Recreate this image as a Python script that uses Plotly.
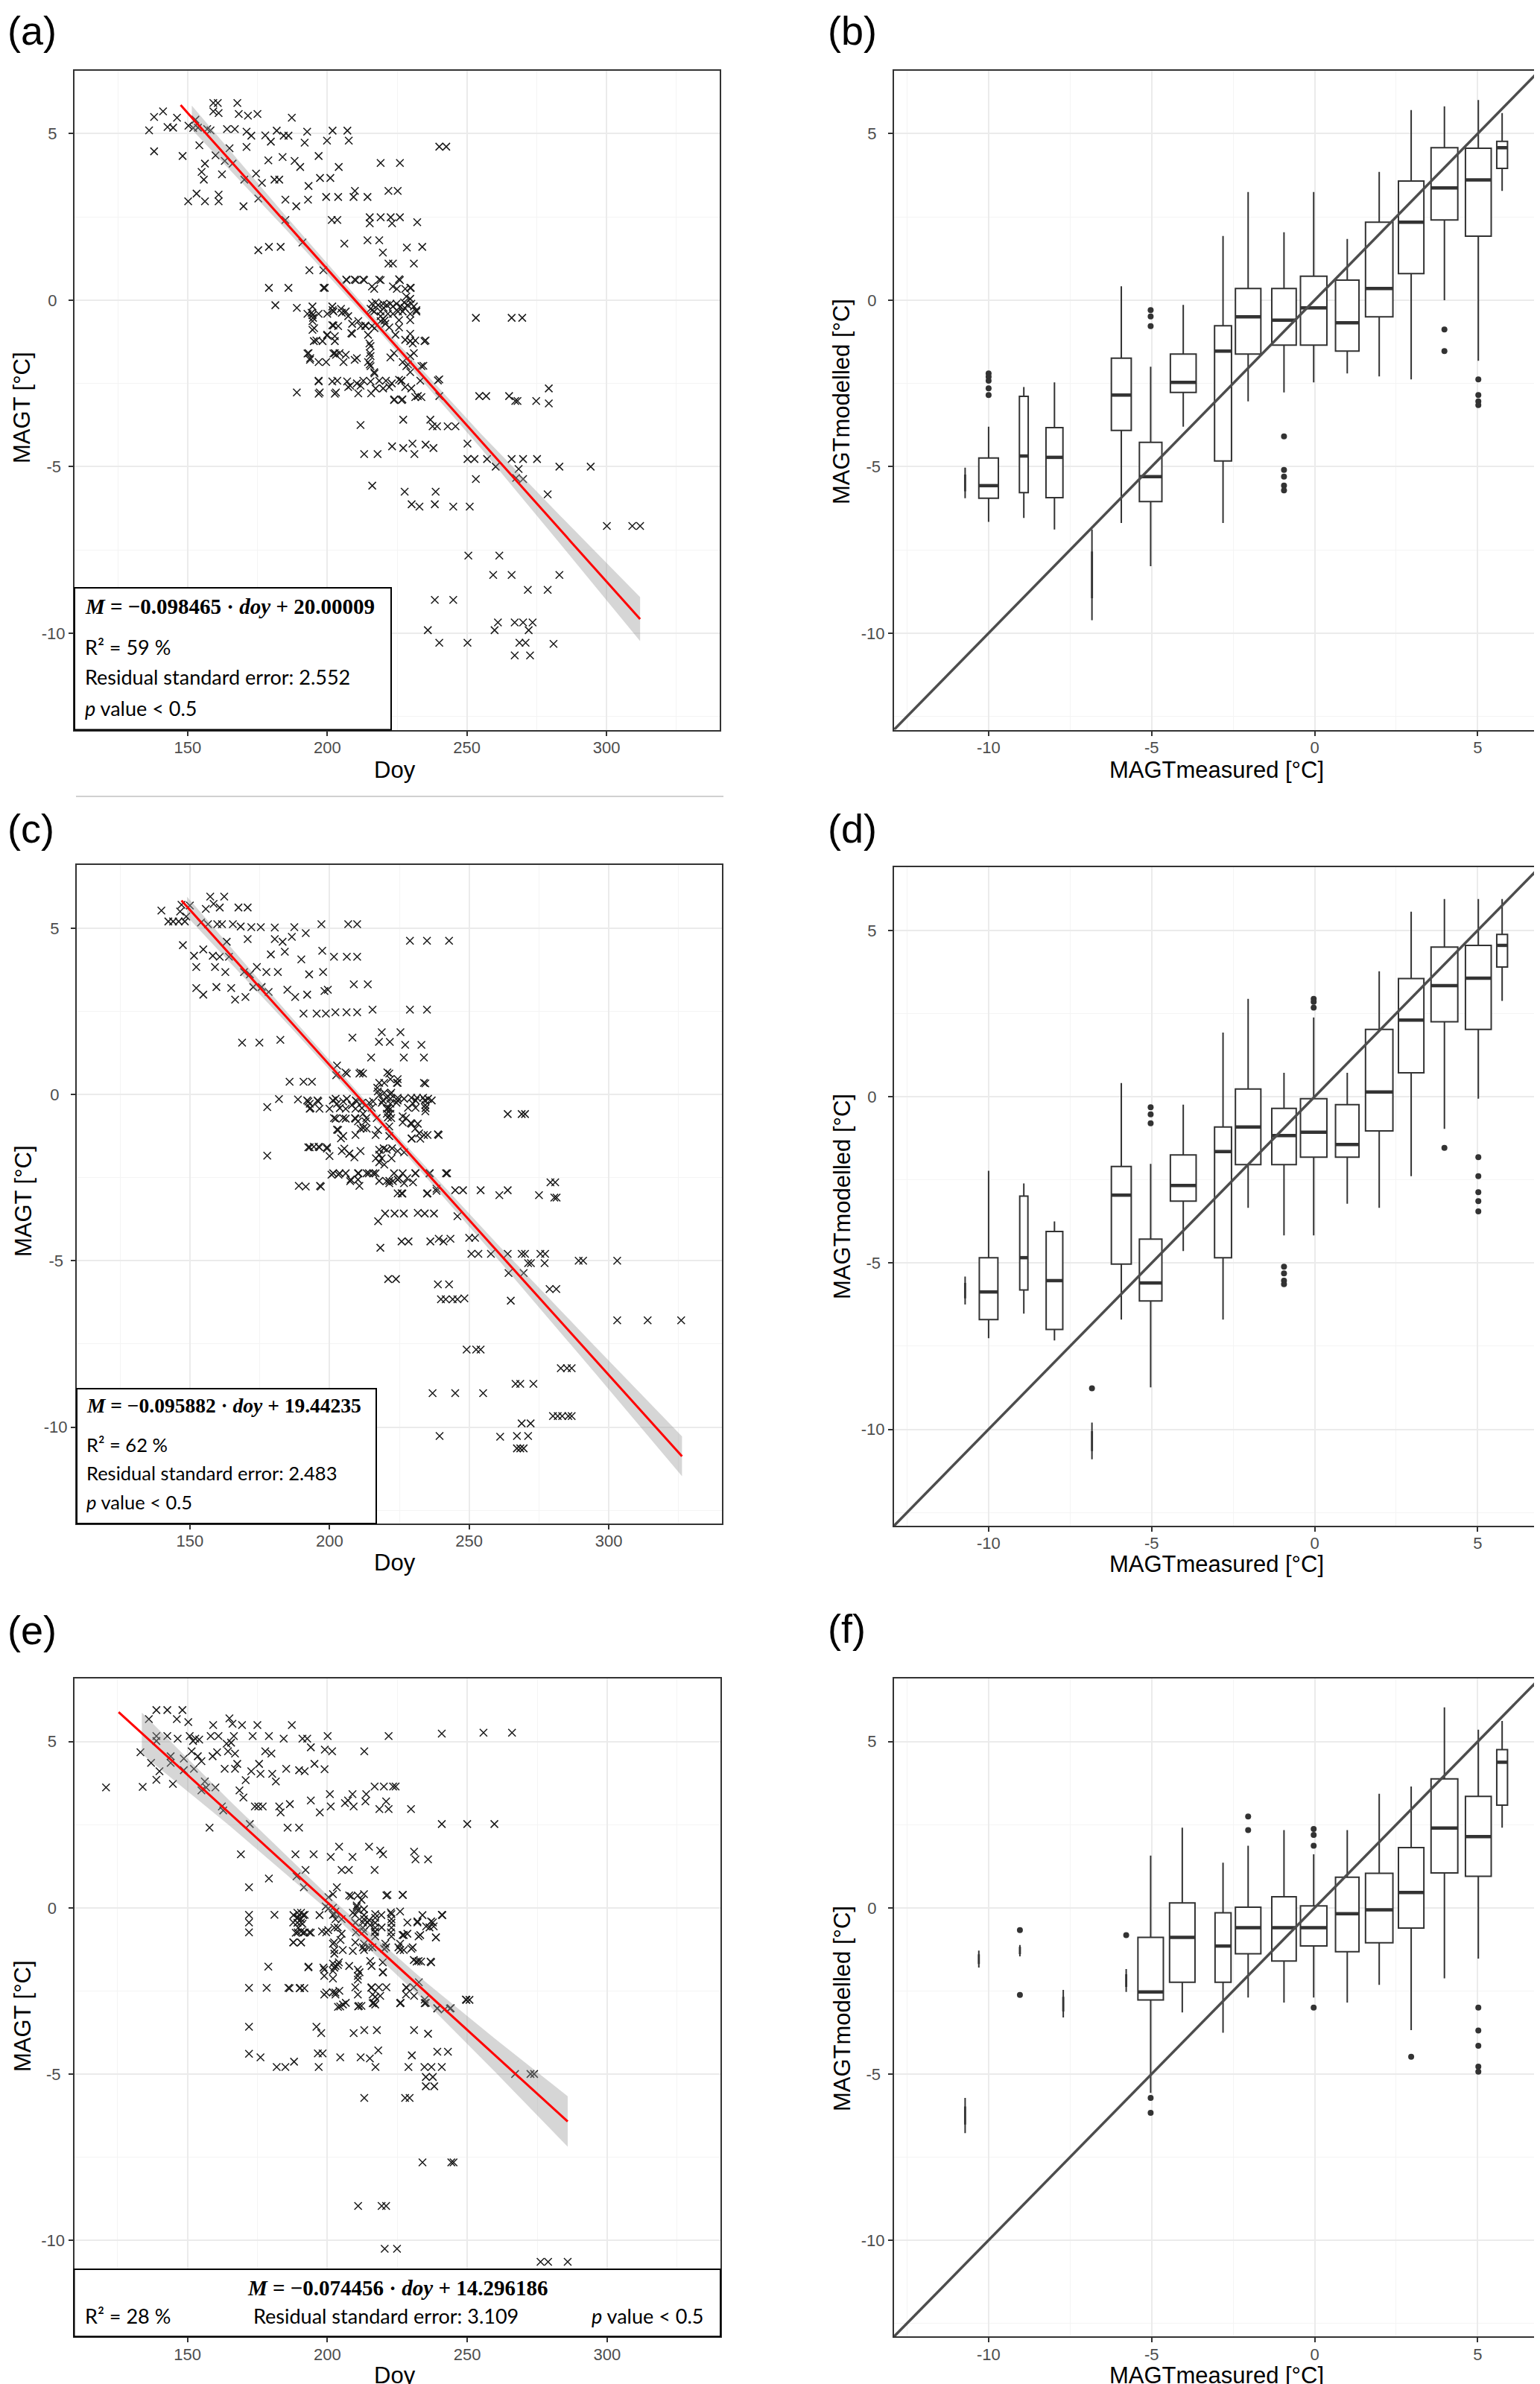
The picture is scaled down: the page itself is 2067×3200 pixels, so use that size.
import numpy as np
import plotly.graph_objects as go

# ---- data ----
# scatter panels: (doy, MAGT)
pts_a = [(136.2, 5.1), (138, 5.5), (138, 4.47), (141.2, 5.67), (142.8, 5.2), (144.8, 5.18), (146.2, 5.48), (148.2, 4.33),
         (150.2, 2.97), (150.3, 5.24), (152, 5.17), (152.8, 5.42), (153.7, 5.18), (154.2, 4.65), (153.2, 3.2), (155, 3.85),
         (155.8, 3.62), (156.2, 2.97), (156.2, 4.1), (157, 5.14), (158.2, 5.1), (159.2, 5.92), (159.2, 5.67), (160.8, 5.92),
         (161.1, 5.62), (160, 4.35), (161.1, 3.17), (161.1, 2.97), (162.3, 3.78), (163.3, 4.18), (164.1, 5.14), (165, 4.56),
         (166.1, 4.1), (166.9, 5.14), (167.8, 5.92), (168.3, 5.59), (170, 2.82), (170.3, 3.62), (171.1, 5.06), (171.1, 4.6),
         (171.6, 5.54), (172.8, 4.94), (175, 5.59), (174.5, 3.8), (175.3, 3.05), (175.3, 1.5), (176.6, 3.52), (177.8, 4.95),
         (178.9, 4.2), (179.1, 1.6), (179.1, 0.37), (179.8, 4.76), (181.1, 3.62), (181.4, -0.15), (181.9, 5.09), (182.8, 3.62),
         (183.3, 1.6), (184, 4.3), (184.4, 4.94), (185, 3.02), (185, 2.41), (186.1, 4.94), (186.1, 0.37), (187.3, 5.48),
         (188.3, 4.18), (188.9, 2.82), (189.1, -0.23), (189.1, -2.77), (190.3, 4.0), (191.1, 1.73), (191.9, 4.73), (192.8, 5.06),
         (193.1, 3.02), (193.3, 3.43), (193.6, 0.9), (194.4, -0.38), (194.9, -0.53), (193.3, -1.59), (193.9, -1.74), (195.3, -0.84),
         (196.1, -1.21), (196.9, 4.33), (196.9, -2.42), (197.3, -2.77), (197.4, 3.67), (198.6, 0.9), (199.1, 0.37), (199.6, 3.1),
         (199.9, 4.79), (199.9, -1.06), (201.1, 3.67), (201.6, 2.41), (201.9, 5.09), (201.9, -0.3), (202.2, -0.76), (202.7, -1.59),
         (203.1, -2.77), (203.6, 2.41), (203.9, 3.1), (204.1, 4.0), (203.6, -2.42), (204.4, -1.59), (205.2, -0.38), (206.1, 1.7),
         (206.9, 0.6), (207.2, 5.09), (207.7, 4.79), (208.6, -0.99), (208.2, -2.57), (209.4, 3.1), (209.9, 3.28), (210.2, 0.6),
         (210.6, -1.74), (211.9, -2.57), (211.9, -3.75), (213.2, 0.6), (213.2, -4.62), (213.6, -0.76), (214.4, 3.1), (214.4, 1.8),
         (215.2, 2.49), (215.2, 2.31), (215.2, -1.59), (215.2, -1.93), (215.7, -2.8), (216.1, -0.3), (216.1, -5.57), (216.9, -0.84),
         (216.9, -2.2), (218, -4.62), (218.6, 1.8), (219.1, 4.12), (219.1, 2.49), (219.1, 0.6), (219.9, 1.43), (220.2, -0.23),
         (220.5, -0.61), (221, -2.42), (221.9, 3.28), (221.9, 1.1), (222.7, 2.49), (223.2, 2.31), (223.2, -4.39), (223.5, 1.1),
         (223.9, -1.59), (224, -2.98), (225.2, 3.28), (226, 2.49), (226, 0.6), (226, 4.12), (226.5, -2.42), (226.9, -2.98),
         (227.2, -3.59), (227.2, -4.44), (227.7, -5.75), (227.7, -0.23), (228.5, 1.58), (228.9, -1.93), (229.9, 0.37), (230.2, -6.13),
         (230.5, -4.31), (231, -1.59), (231, 1.1), (231.2, -4.62), (231.5, -1.21), (231.9, -0.3), (232.2, 2.34), (232.4, -2.88),
         (233, -6.2), (234, 1.6), (234.4, -1.97), (235.2, -1.21), (235.2, -4.34), (236, -9.91), (236.9, -3.59), (237.7, -3.79),
         (238, -4.44), (238.5, -6.13), (238.5, -9.0), (238.8, -5.75), (239.3, -3.79), (240.1, -2.38), (240.1, -2.88), (240.1, -10.29),
         (240.1, 4.61), (242.6, 4.61), (243.1, -3.79), (245.1, -6.2), (245.1, -9.0), (245.9, -3.79), (250.2, -4.31), (250.2, -4.77),
         (250.5, -7.67), (251, -6.2), (250.2, -10.29), (252.7, -4.77), (253.2, -0.53), (253.2, -5.37), (254.4, -2.88), (256.9, -2.88),
         (257.2, -4.77), (259.4, -8.25), (259.9, -9.91), (260.3, -5.0), (261.1, -9.68), (261.6, -7.67), (265.1, -2.88), (266, -0.53),
         (266, -4.77), (266, -8.25), (267.1, -9.68), (267.1, -10.67), (267.3, -3.03), (267.6, -5.34), (268.1, -3.03), (268.5, -5.07),
         (268.8, -10.29), (269.8, -0.53), (270.1, -4.77), (270.1, -5.37), (270.1, -9.68), (271, -10.29), (271.8, -8.7), (272.1, -9.91),
         (272.6, -10.67), (273.5, -9.68), (274.8, -3.03), (275.1, -4.77), (278.9, -5.83), (278.9, -8.7), (279.3, -2.65), (279.3, -3.1),
         (281, -10.32), (283.1, -5.0), (283.1, -8.25), (294.3, -5.0), (300.1, -6.78), (309.2, -6.78), (312, -6.78)]

# dense middle cluster of (a)
pts_a_dense = [(198.7, 0.37), (206.8, 0.62), (209.8, 0.62), (212.9, 0.62), (218.6, 0.62), (225.7, 0.63), (216, 0.41), (216.8, 0.34),
               (223.5, 0.41), (224.9, 0.34), (227.9, 0.34), (229.7, 0.37), (228.3, 0.11), (229.7, 0.04), (216, -0.11), (217.3, -0.07),
               (218.2, -0.15), (220, -0.11), (221.3, -0.15), (222.6, -0.11), (223.5, -0.19), (224.8, -0.11), (226.2, -0.19), (227.5, -0.07),
               (228.8, -0.15), (230.1, -0.11), (231, -0.19), (215.5, -0.26), (216.8, -0.34), (219.1, -0.34), (219.1, -0.48), (220, -0.56),
               (219.1, -0.63), (220.8, -0.71), (221.7, -0.41), (223.5, -0.41), (225.3, -0.34), (227, -0.34), (229.7, -0.41), (231.9, -0.34),
               (225.7, -0.6), (225.7, -0.82), (229.7, -0.6), (229.7, -1.01), (229.7, -1.23), (230.6, -1.3), (227.9, -1.19), (234.8, -1.23),
               (222.2, -0.82), (224.4, -1.04), (194.7, -0.19), (194.7, -0.45), (194.7, -0.63), (194.7, -0.89), (196.9, -0.41), (192.9, -0.41),
               (201.8, -0.19), (202.2, -0.34), (201.8, -0.75), (203.9, -0.78), (204.9, -0.26), (206.6, -0.34), (207.5, -0.48), (200, -0.41),
               (208.9, -0.71), (211.1, -0.63), (212, -0.78), (213.7, -0.78), (216, -0.78), (208.9, -1.01), (200, -1.04), (202.7, -1.08),
               (195.2, -1.23), (198.3, -1.23), (202.7, -1.23), (214.6, -1.04), (215.1, -1.3), (215.5, -1.38), (192.9, -1.6), (193.8, -1.79),
               (196.9, -1.86), (199.6, -1.86), (202.2, -1.6), (203.1, -1.64), (206.6, -1.64), (205.8, -1.86), (209.8, -1.79), (215.5, -1.68),
               (214.6, -1.86), (215.5, -1.98), (216.8, -2.16), (222.6, -1.72), (227, -1.86), (228.3, -1.98), (229.7, -1.68), (229.7, -2.16),
               (233.7, -1.98), (196.9, -2.44), (196.9, -2.81), (201.8, -2.44), (202.7, -2.81), (207.1, -2.44), (207.5, -2.61), (210.6, -2.5),
               (211.1, -2.8), (212.9, -2.42), (215.5, -2.44), (217.3, -2.65), (218.6, -2.42), (220, -2.65), (222.2, -2.61), (223.1, -2.5),
               (225.7, -2.39), (226.6, -2.42), (227.9, -2.61), (230.1, -2.65), (233.3, -2.42), (239.6, -2.41), (223.9, -3.0), (226.6, -3.0),
               (231.5, -2.91), (233.7, -2.91)]

pts_c = [(139.8, 5.53), (142.3, 5.2), (144, 5.2), (146, 5.2), (146.5, 5.5), (147, 5.7), (147.5, 4.49), (148.2, 5.2),
         (148.7, 5.35), (150, 5.68), (151.5, 4.17), (152.3, 3.83), (152.3, 3.2), (154, 5.17), (154.8, 4.36), (154.8, 3.0),
         (155.7, 5.58), (156.5, 5.12), (157.3, 5.95), (158.2, 4.17), (158.5, 5.73), (159, 3.83), (159.5, 3.23), (159.8, 5.12),
         (160.7, 5.62), (160.7, 4.14), (161.5, 5.12), (162.3, 5.95), (162.7, 3.68), (163.2, 4.59), (164, 4.14), (164.8, 3.2),
         (165.4, 5.12), (166.2, 2.85), (167.4, 5.62), (168.2, 5.05), (168.7, 1.56), (169.4, 3.68), (169.9, 2.93), (170.7, 5.62),
         (170.7, 4.67), (171.5, 3.61), (172, 5.03), (172.7, 3.23), (174, 3.83), (174.9, 1.56), (175.4, 5.03), (175.7, 3.23),
         (177.4, 3.68), (177.7, -0.38), (177.7, -1.84), (178.2, 3.08), (179, 4.21), (180.4, 5.02), (180.4, 4.67), (181.5, 3.68),
         (181.9, -0.14), (182.4, 1.64), (183.2, 4.59), (184, 4.29), (184.9, 3.15), (185.7, 0.38), (186.5, 4.74), (187.4, 5.03),
         (187.7, 2.93), (188.7, -0.15), (189, -2.75), (189.9, 4.06), (190.7, 2.43), (190.7, 0.38), (191.5, 4.85), (192, -0.18),
         (192, 3.0), (192.4, -1.59), (192.7, 3.61), (193.2, -0.41), (193.7, 0.38), (194.4, -1.57), (195.4, 2.43), (195.7, -0.18),
         (196.1, -1.57), (196.6, -2.75), (197.1, 5.12), (197.4, 4.32), (197.7, 3.68), (198.2, 3.11), (198.7, 2.43), (199.1, -1.59),
         (199.4, 3.15), (200.7, -2.41), (201.2, -0.18), (201.6, -0.71), (201.6, 4.14), (202.1, 2.47), (202.4, 0.58), (202.7, -1.06),
         (203.2, -2.41), (203.7, -0.41), (204.1, -1.32), (204.4, -1.7), (204.9, -0.71), (205.7, 0.66), (206.1, 2.47), (206.2, 4.14),
         (206.7, 5.12), (207.1, -1.78), (207.4, -2.61), (208.2, 1.71), (208.7, 3.31), (209.1, -0.71), (209.4, -0.18), (209.9, 5.12),
         (209.9, 4.14), (209.9, 2.47), (210.4, -2.37), (210.7, -2.75), (211.1, 0.66), (211.6, -0.41), (212.1, -1.01), (213.2, -0.71),
         (213.7, 3.31), (214.1, -2.37), (214.9, 1.11), (215.4, 2.55), (215.7, -2.37), (216.6, -1.92), (216.9, -0.71), (217.1, 0.2),
         (217.4, -3.81), (217.7, 1.58), (218.2, -4.61), (218.7, 1.87), (219.1, -0.18), (219.4, -1.62), (219.9, -3.58), (220.4, -2.61),
         (220.7, 0.66), (221, -0.41), (221, -5.55), (221.6, 1.58), (222.1, 0.05), (222.1, -0.71), (222.4, -1.62), (222.7, -2.61),
         (223.3, -3.58), (223.8, -5.55), (224.1, 0.35), (224.4, -0.18), (224.9, -2.52), (225.4, 1.87), (225.8, -4.42), (226.1, -2.98),
         (226.6, 1.11), (226.6, -3.58), (227.1, 1.49), (227.4, -0.71), (227.8, -2.52), (228.3, -4.42), (228.8, 4.62), (228.8, 2.55),
         (229.1, -0.86), (229.4, -1.32), (229.9, -2.64), (230.8, -0.18), (230.8, -2.37), (231.6, -3.56), (232.1, -1.17), (232.9, 1.49),
         (233.8, 1.11), (233.8, 0.35), (234.1, -3.58), (234.1, -0.18), (234.4, -0.41), (234.9, 4.62), (234.9, 2.55), (234.9, -2.98),
         (235.8, -2.37), (236.1, -4.42), (236.6, -0.18), (236.9, -8.98), (237.4, -3.58), (238.3, -2.83), (238.8, -1.2), (238.8, -5.71),
         (239.1, -4.34), (239.4, -10.27), (239.9, -6.16), (240.8, -4.42), (241.6, -6.16), (242.1, -2.37), (242.8, 4.62), (242.8, -5.71),
         (243.3, -4.34), (244.1, -6.16), (245, -8.98), (245, -2.88), (245.8, -3.66), (245.8, -6.16), (247.8, -2.88), (248.3, -6.13),
         (249.1, -7.67), (250, -4.31), (250.8, -4.79), (252.1, -4.31), (252.5, -7.67), (253.3, -4.79), (254.1, -2.88), (254.1, -7.67),
         (255, -8.98), (257.8, -4.79), (260.8, -3.03), (261.1, -10.29), (263.8, -2.88), (263.8, -0.59), (263.8, -4.79), (264.1, -5.37),
         (264.9, -6.2), (266.6, -8.7), (267.1, -10.27), (267.1, -10.64), (268.3, -8.7), (268.3, -10.64), (268.8, -9.89), (268.8, -0.59),
         (268.8, -4.79), (269.5, -5.37), (269.5, -10.64), (270, -0.59), (270, -4.79), (271.1, -5.07), (271.1, -10.27), (272, -9.89),
         (272.1, -5.07), (273, -8.7), (275, -3.03), (275.5, -4.79), (277, -5.07), (277.2, -4.79), (278.8, -5.85), (279.1, -2.64),
         (280, -9.67), (280.5, -3.1), (280.8, -2.64), (281.2, -5.85), (281.3, -3.1), (281.7, -9.67), (282.8, -8.23), (283.3, -9.67),
         (285, -8.23), (285.5, -9.67), (286.7, -8.23), (286.7, -9.67), (289.2, -5.0), (290.8, -5.0), (303, -5.0), (303, -6.79),
         (313.9, -6.79), (325.9, -6.79)]

pts_c_dense = [(202.7, 0.87), (206.2, 0.63), (210.7, 0.63), (212, 0.63), (221.4, 0.63), (221.8, 0.46), (224.4, 0.46), (224.4, 0.35),
               (234.3, 0.33), (217.8, 0.35), (219.6, 0.35), (217.3, 0.09), (217.8, -0.02), (219.6, 0.05), (220.5, -0.1), (221.8, 0.01),
               (221.8, -0.13), (221.8, -0.28), (221.8, -0.43), (221.8, -0.58), (220.5, -0.43), (220.5, -0.58), (220.9, -0.69), (224.4, -0.1),
               (224, -0.25), (226.7, -0.13), (229.3, -0.1), (231.3, -0.1), (233.5, -0.1), (235.3, -0.13), (229.9, -0.28), (228.1, -0.4),
               (230.8, -0.4), (234.3, -0.32), (234.3, -0.51), (226.2, -0.66), (226.2, -0.84), (229.4, -0.88), (231.6, -0.88), (230.7, -1.03),
               (233.8, -1.22), (235.1, -1.22), (239.1, -1.22), (229.4, -1.33), (232.5, -1.33), (192.4, -0.21), (192.9, -0.28), (196, -0.21),
               (196.4, -0.43), (192.9, -0.43), (200, -0.43), (202.2, -0.13), (202.7, -0.28), (204.9, -0.21), (206.2, -0.13), (205.8, -0.43),
               (208, -0.32), (209.8, -0.21), (209.3, -0.43), (211.6, -0.25), (214.2, -0.25), (215.1, -0.4), (215.6, -0.21), (218.7, -0.25),
               (202.2, -0.73), (205.8, -0.73), (209.3, -0.73), (210.2, -0.81), (212.9, -0.81), (212, -0.58), (203.1, -1.07), (204.9, -1.25),
               (209.3, -1.22), (211.1, -1.03), (213.3, -1.03), (216.5, -1.22), (217.4, -1.07), (221.4, -0.96), (221.4, -1.25), (192.9, -1.59),
               (196.4, -1.59), (199.1, -1.63), (200, -1.85), (205.3, -1.63), (207.1, -1.78), (208.9, -1.89), (211.1, -1.7), (217.8, -1.66),
               (217.8, -1.81), (218.7, -1.92), (217.8, -2.04), (219.6, -2.11), (220.5, -1.66), (222.2, -1.92), (224.4, -1.7), (226.7, -1.74),
               (201.3, -2.37), (203.6, -2.37), (205.8, -2.37), (207.6, -2.56), (210.2, -2.37), (210.2, -2.56), (213.3, -2.37), (216.5, -2.37),
               (217.8, -2.6), (221.4, -2.67), (221.4, -2.6), (223.1, -2.37), (224.4, -2.56), (226.2, -2.37), (226.7, -2.67), (230.7, -2.37),
               (235.9, -2.37), (241.7, -2.37), (191.5, -2.77), (196.9, -2.77), (224.4, -2.97), (225.8, -2.97), (235.1, -2.97), (238.3, -2.9)]

pts_e = [(120.9, 3.62), (133.2, 4.68), (134, 3.64), (136.2, 5.68), (137, 4.36), (138.9, 5.95), (138.9, 5.17), (138.9, 5.02),
         (138.9, 3.85), (140, 4.11), (142.8, 5.95), (142.8, 5.17), (144, 4.56), (144, 4.36), (144.8, 3.73), (146.2, 5.68),
         (146.5, 5.09), (148.2, 5.95), (148.7, 4.49), (148.7, 4.14), (150.3, 5.59), (150.8, 5.17), (151.5, 4.71), (152, 5.02),
         (152.3, 4.18), (152.8, 5.09), (153.7, 4.56), (154.2, 5.06), (155, 4.41), (155, 3.53), (156.2, 3.8), (156.7, 3.62),
         (157.9, 2.41), (158.3, 5.17), (159, 4.56), (159.2, 5.5), (160, 3.62), (160.6, 4.68), (161.1, 5.17), (162.3, 3.05),
         (162.8, 2.93), (163.3, 4.18), (164, 4.94), (164.5, 4.71), (165, 5.7), (165.6, 4.97), (166.1, 5.54), (166.6, 5.17),
         (167, 4.18), (167, 4.64), (167.8, 4.33), (168.6, 3.53), (169.1, 1.61), (169.5, 5.5), (170, 3.32), (170.8, 3.84),
         (172, 0.62), (172, -0.21), (172, -0.44), (172, -0.74), (172, -2.41), (172, -3.58), (172, -4.39), (172.3, 2.52),
         (172.8, 4.11), (173.3, 5.17), (174.1, 3.05), (175, 5.5), (175.3, 3.05), (175.6, 4.33), (176.1, -4.5), (176.1, 4.03),
         (176.9, 3.05), (177.8, 4.71), (178.3, -2.41), (178.9, -1.77), (179.1, 0.88), (179.1, 5.17), (180, 4.64), (180.3, 4.03),
         (181.1, -0.21), (181.6, 3.8), (181.9, -4.79), (182.8, 3.05), (183.3, 2.87), (184.4, 5.09), (185, -4.79), (185.3, 4.18),
         (185.8, 2.41), (186.1, -2.41), (186.6, 3.12), (187.3, 5.5), (187.8, -0.44), (187.8, -1.04), (188.1, -4.63), (188.6, 1.61),
         (189, 0.95), (189.4, -0.29), (189.4, -0.74), (189.9, 4.14), (189.9, 2.41), (190.3, -2.41), (190.6, -0.44), (190.6, -1.04),
         (191.1, 5.09), (191.6, 0.62), (191.9, 4.11), (191.9, -0.21), (191.9, -0.74), (192.2, 1.14), (192.8, 5.09), (193.3, -1.77),
         (193.6, -0.74), (194.1, 4.83), (194.1, 3.23), (195.1, 1.61), (195.4, 4.33), (196.1, -3.58), (196.6, -4.38), (196.9, -4.79),
         (197.3, 2.87), (197.8, -3.77), (198.3, -4.38), (198.6, -1.8), (199, 4.17), (199.1, 4.76), (199.6, -0.74), (199.6, -2.55),
         (200.1, 5.17), (200.4, 0.32), (200.4, -0.02), (200.9, 3.42), (201.2, 3.05), (201.2, 1.53), (201.7, 4.71), (202, -0.21),
         (202.4, -1.04), (202.5, -1.8), (202.9, -2.55), (203.4, 0.62), (203.7, -0.59), (204.1, -1.64), (204.2, 1.84), (204.6, -2.97),
         (204.6, -4.5), (205.1, 1.14), (205.5, -1.27), (206.3, 3.15), (206.6, -2.86), (207.4, 3.23), (207.7, 1.14), (208.5, 0.35),
         (209, 1.53), (209, 3.42), (209.4, 3.05), (209.4, -3.77), (209.9, -0.21), (210.2, -0.74), (210.5, 0.02), (211, -8.97),
         (211, -2.97), (211.5, -1.94), (211.9, -4.5), (212.2, 0.24), (212.7, -0.44), (212.7, -1.19), (213.2, 4.71), (213.2, -3.68),
         (213.2, -5.72), (213.6, 3.2), (213.9, 3.42), (214.4, -0.44), (214.9, 1.84), (215.2, -4.53), (215.7, -2.41), (216.1, -1.19),
         (216.6, -2.86), (216.9, -0.74), (216.9, 3.65), (216.9, 1.14), (217.2, -4.79), (217.7, -3.68), (218.2, -4.29), (218.6, 2.97),
         (218.9, 1.72), (219.4, -0.59), (219.4, -8.97), (219.9, 1.61), (219.9, -1.94), (220.2, 3.65), (220.5, -10.26), (221, 3.2),
         (221, -1.19), (221, -8.97), (221.5, 0.39), (221.9, 5.17), (221.9, 2.97), (222.7, -0.14), (222.7, -0.74), (223.5, 3.65),
         (224.4, 3.65), (224.9, -10.26), (225.4, -1.19), (226.2, -2.86), (227, 0.39), (227.3, -0.82), (227.8, -5.72), (228.3, -2.41),
         (228.6, -0.44), (229, -4.79), (229.4, -5.72), (229.9, 2.97), (230.2, -4.44), (230.5, -1.19), (231, 1.69), (231, -3.68),
         (231.5, 1.46), (231.9, -1.62), (232.2, -0.44), (232.7, -2.24), (233.2, -0.82), (233.5, -1.62), (234, -7.66), (234.7, -4.79),
         (235.2, -2.86), (235.2, -5.09), (235.2, -5.37), (236, 1.46), (236, -3.79), (236.5, -0.59), (236.9, -1.62), (237.2, -4.79),
         (237.7, -0.44), (237.7, -5.09), (238.2, -5.37), (238.8, -0.89), (239.3, -3.03), (239.3, -4.33), (240.9, -0.21), (240.9, -4.79),
         (240.9, 2.52), (240.9, 5.24), (243.1, -4.33), (243.8, -3.03), (244.3, -7.66), (245.1, -7.66), (249.7, -2.77), (250, 2.52),
         (250.8, -2.77), (255.8, 5.27), (259.7, 2.52), (266, 5.27), (267.1, -5.0), (272.6, -5.0), (273.9, -5.0), (276.2, -10.65),
         (278.9, -10.65), (285.9, -10.65)]

pts_e_dense = [(202, 0.41), (207.8, 0.37), (210.9, 0.37), (213.1, 0.41), (221.1, 0.37), (226.9, 0.39), (199.4, 0.04), (202, 0),
               (202.9, -0.11), (210.5, 0.07), (210.9, -0.07), (213.1, -0.04), (226, -0.11), (187.9, -0.22), (189.3, -0.15), (190.6, -0.15),
               (191.4, -0.22), (189.3, -0.3), (190.6, -0.34), (189.3, -0.45), (191.1, -0.48), (189.6, -0.6), (190.6, -0.71), (188.7, -0.75),
               (191.4, -0.75), (194.1, -0.75), (197.2, -0.22), (198.1, -0.71), (200.3, -0.67), (202.5, -0.19), (202.9, -0.34), (202.5, -0.6),
               (205.1, -0.34), (205.1, -0.78), (209.1, -0.15), (210, -0.45), (213.1, -0.22), (213.1, -0.34), (212.7, -0.6), (213.1, -0.71),
               (214.9, -0.37), (215.3, -0.52), (217.1, -0.19), (217.1, -0.3), (217.1, -0.45), (217.1, -0.6), (217.1, -0.71), (217.1, -0.86),
               (219.3, -0.22), (222.9, -0.19), (222.9, -0.34), (222.9, -0.45), (222.9, -0.6), (222.9, -0.86), (226.9, -0.82), (228.6, -0.78),
               (234, -0.22), (232.2, -0.41), (235.3, -0.56), (237.1, -0.41), (238, -0.56), (241.1, -0.22), (232.6, -0.86), (238.8, -0.89),
               (187.9, -1.04), (190.6, -1.04), (202, -1.08), (202.5, -1.27), (202.5, -1.38), (204.7, -0.97), (210, -1.04), (209.1, -1.3),
               (213.1, -1.08), (213.1, -1.27), (214.9, -1.19), (220.7, -1.08), (220.3, -1.23), (226, -1.08), (226, -1.27), (227.3, -1.27),
               (230, -1.23), (193.2, -1.79), (198.9, -1.86), (198.9, -2.05), (202, -1.68), (202, -1.9), (202, -2.13), (202.9, -1.75),
               (203.8, -1.72), (207.8, -1.75), (210.9, -1.86), (210.9, -2.05), (210.9, -2.16), (215.3, -1.6), (215.8, -1.75), (219.8, -1.64),
               (219.8, -1.94), (230.9, -1.57), (232.6, -1.6), (237.1, -1.64), (186.5, -2.42), (190.1, -2.42), (191.8, -2.42), (210, -2.39),
               (215.8, -2.39), (218.4, -2.39), (221.1, -2.39), (228.2, -2.39), (230.9, -2.39), (198.9, -2.61), (202, -2.54), (202.9, -2.61),
               (204.3, -2.5), (210.9, -2.61), (216.2, -2.61), (217.1, -2.68), (218.9, -2.65), (228.1, -2.61), (231, -2.65), (234.8, -2.76),
               (203.8, -2.98), (205.6, -2.91), (211.3, -2.95), (212.2, -2.95), (216.2, -2.87), (217.1, -2.91), (226, -2.87), (234.8, -2.87),
               (239.3, -3.02), (241.9, -3.06), (244.1, -3.02), (249.5, -2.76)]

# fitted line (end points as drawn) and confidence band half-widths
line_doy_a, line_magt_a = [147.5, 312], [5.86, -9.58]
band_doy_a, band_half_a = [151.5, 185, 220, 255, 283, 312], [0.36, 0.2, 0.13, 0.22, 0.42, 0.66]
line_doy_c, line_magt_c = [147, 326.2], [5.83, -10.88]
band_doy_c, band_half_c = [149, 185, 220, 260, 295, 326.2], [0.3, 0.17, 0.12, 0.22, 0.4, 0.6]
line_doy_e, line_magt_e = [125.4, 285.9], [5.89, -6.43]
band_doy_e, band_half_e = [133.7, 165, 200, 235, 260, 285.9], [0.62, 0.38, 0.22, 0.3, 0.5, 0.76]

# box panels: measured position, box width, quartiles, whisker ends
pos_b = [-10.72, -10.0, -8.92, -7.98, -6.83, -5.93, -5.03, -4.03, -2.81, -2.04, -0.94, -0.03, 1.0, 1.98, 2.96, 3.98, 5.02, 5.75]
wid_b = [0.02, 0.6, 0.27, 0.52, 0.02, 0.61, 0.69, 0.79, 0.52, 0.78, 0.75, 0.81, 0.72, 0.84, 0.78, 0.82, 0.79, 0.33]
q1_b = [-5.72, -5.95, -5.78, -5.93, -8.93, -3.91, -6.05, -2.77, -4.83, -1.62, -1.35, -1.35, -1.53, -0.5, 0.8, 2.41, 1.92, 3.96]
med_b = [-5.49, -5.57, -4.68, -4.72, -8.25, -2.85, -5.3, -2.47, -1.53, -0.5, -0.6, -0.23, -0.68, 0.35, 2.34, 3.37, 3.61, 4.58]
q3_b = [-5.26, -4.74, -2.89, -3.83, -7.57, -1.74, -4.27, -1.62, -0.77, 0.35, 0.35, 0.72, 0.6, 2.34, 3.58, 4.58, 4.56, 4.77]
lo_b = [-5.95, -6.66, -6.54, -6.89, -9.61, -6.69, -7.99, -3.8, -6.69, -3.04, -2.77, -2.47, -2.2, -2.29, -2.38, 0.0, -1.82, 3.28]
hi_b = [-5.03, -3.8, -2.61, -2.47, -6.89, 0.42, -2.0, -0.14, 1.93, 3.25, 2.04, 3.25, 1.84, 3.85, 5.71, 5.82, 6.01, 5.62]
out_b = [(-10.0, -2.2), (-10.0, -2.3), (-10.0, -2.42), (-10.0, -2.65), (-10.0, -2.85), (-5.03, -0.3), (-5.03, -0.49),
         (-5.03, -0.78), (-0.94, -4.09), (-0.94, -5.1), (-0.94, -5.3), (-0.94, -5.57), (-0.94, -5.71), (3.98, -0.88),
         (3.98, -1.53), (5.02, -2.38), (5.02, -2.85), (5.02, -3.04), (5.02, -3.15)]

pos_d = [-10.72, -10.0, -8.92, -7.98, -6.83, -5.93, -5.03, -4.03, -2.81, -2.04, -0.94, -0.03, 1.0, 1.98, 2.96, 3.98, 5.02, 5.75]
wid_d = [0.02, 0.57, 0.25, 0.51, 0.02, 0.61, 0.69, 0.79, 0.52, 0.78, 0.75, 0.81, 0.72, 0.84, 0.78, 0.82, 0.79, 0.33]
q1_d = [-6.04, -6.7, -5.81, -7.0, -10.63, -5.03, -6.14, -3.14, -4.84, -2.04, -2.04, -1.82, -1.82, -1.03, 0.72, 2.25, 2.02, 3.9]
med_d = [-5.83, -5.87, -4.84, -5.53, -10.35, -2.96, -5.6, -2.67, -1.65, -0.91, -1.17, -1.07, -1.44, 0.14, 2.3, 3.34, 3.56, 4.55]
q3_d = [-5.62, -4.84, -2.99, -4.05, -10.08, -2.1, -4.28, -1.75, -0.91, 0.23, -0.35, -0.06, -0.24, 2.02, 3.55, 4.5, 4.55, 4.88]
lo_d = [-6.25, -7.26, -6.52, -7.33, -10.9, -6.7, -8.74, -4.64, -6.7, -3.34, -4.17, -4.17, -3.22, -3.34, -2.39, -0.97, -0.06, 2.88]
hi_d = [-5.41, -2.23, -2.61, -3.75, -9.8, 0.41, -2.02, -0.24, 1.93, 2.94, 0.72, 2.38, 0.72, 3.77, 5.56, 5.94, 5.94, 5.94]
out_d = [(-6.83, -8.77), (-5.03, -0.32), (-5.03, -0.53), (-5.03, -0.8), (-0.94, -5.11), (-0.94, -5.31), (-0.94, -5.53),
         (-0.94, -5.64), (-0.03, 2.94), (-0.03, 2.85), (-0.03, 2.68), (3.98, -1.54), (5.02, -1.82), (5.02, -2.39),
         (5.02, -2.87), (5.02, -3.14), (5.02, -3.45)]

pos_f = [-10.72, -10.3, -9.04, -7.71, -5.78, -5.03, -4.06, -2.81, -2.04, -0.94, -0.03, 1.0, 1.98, 2.96, 3.98, 5.02, 5.75]
wid_f = [0.02, 0.02, 0.02, 0.02, 0.02, 0.78, 0.78, 0.49, 0.78, 0.75, 0.81, 0.72, 0.84, 0.78, 0.82, 0.79, 0.33]
q1_f = [-6.5, -1.67, -1.37, -3.1, -2.36, -2.77, -2.24, -2.24, -1.38, -1.6, -1.15, -1.32, -1.05, -0.61, 1.05, 0.95, 3.09]
med_f = [-6.25, -1.55, -1.29, -2.9, -2.2, -2.53, -0.89, -1.15, -0.6, -0.6, -0.6, -0.18, -0.06, 0.46, 2.4, 2.14, 4.38]
q3_f = [-6.0, -1.42, -1.2, -2.7, -2.02, -0.89, 0.15, -0.15, 0.02, 0.33, 0.06, 0.92, 1.04, 1.81, 3.88, 3.35, 4.76]
lo_f = [-6.78, -1.8, -1.46, -3.3, -2.53, -5.57, -3.15, -3.76, -2.7, -2.85, -2.7, -2.85, -2.32, -3.68, -2.12, -1.53, 2.41]
hi_f = [-5.72, -1.29, -1.12, -2.47, -1.84, 1.57, 2.41, 1.36, 1.87, 2.34, 1.61, 2.34, 3.43, 3.65, 6.03, 5.36, 5.62]
out_f = [(-9.04, -0.67), (-9.04, -2.62), (-5.78, -0.82), (-5.03, -5.72), (-5.03, -6.17), (-2.04, 2.75), (-2.04, 2.34),
         (-0.03, 2.37), (-0.03, 2.19), (-0.03, 1.87), (-0.03, -3.0), (2.96, -4.48), (5.02, -3.0), (5.02, -3.69),
         (5.02, -4.15), (5.02, -4.78), (5.02, -4.93)]

temp_range = [-12.9, 6.9]
doy_range = [109.5, 340.5]
temp_ticks = [-10, -5, 0, 5]
temp_ticktext = ["-10", "-5\u2005", "0\u2002", "5\u2002"]
temp_minor = [-12.5, -7.5, -2.5, 2.5]
doy_ticks = [150, 200, 250, 300]
doy_minor = [125, 175, 225, 275, 325]

stats = {
    "a": ["M = \u22120.098465 \u00b7 doy + 20.00009", "R\u00b2 = 59 %", "Residual standard error: 2.552"],
    "c": ["M = \u22120.095882 \u00b7 doy + 19.44235", "R\u00b2 = 62 %", "Residual standard error: 2.483"],
    "e": ["M = \u22120.074456 \u00b7 doy + 14.296186", "R\u00b2 = 28 %", "Residual standard error: 3.109"],
}

# ---- layout geometry (pixels) ----
W, H = 2067, 3200
SANS = "Liberation Sans, Arial, sans-serif"
panels = {  # x0, x1, y0(top), y1(bottom)
    "a": (92, 958, 86.5, 971.5),
    "b": (1192, 2058.5, 86.5, 971.5),
    "c": (95, 961, 1153, 2037),
    "d": (1192, 2058.5, 1156, 2040),
    "e": (91.5, 959, 2245, 3128.3),
    "f": (1192, 2058.5, 2245, 3128.3),
}
axis_num = {"a": "", "b": "2", "c": "3", "d": "4", "e": "5", "f": "6"}


def fx(p):
    return p / W


def fy(p):
    return 1 - p / H


fig = go.Figure()
layout_axes = {}
for k, (x0, x1, y0, y1) in panels.items():
    n = axis_num[k]
    common = dict(showline=True, mirror=True, linecolor="#333333", linewidth=2,
                  ticks="outside", ticklen=6, tickwidth=2, tickcolor="#333333",
                  showgrid=True, gridcolor="#ebebeb", gridwidth=2, zeroline=False,
                  tickfont=dict(family=SANS, size=22, color="#4d4d4d"))
    if k in "ace":
        xa = dict(common, range=doy_range, tickvals=doy_ticks,
                  minor=dict(tickvals=doy_minor, showgrid=True, gridcolor="#f4f4f4", gridwidth=1, ticks=""))
    else:
        xa = dict(common, range=temp_range, tickvals=temp_ticks, ticktext=[t.strip("\u2005\u2002") for t in temp_ticktext],
                  minor=dict(tickvals=temp_minor, showgrid=True, gridcolor="#f4f4f4", gridwidth=1, ticks=""))
    xa["ticklabelstandoff"] = -3
    ya = dict(common, range=temp_range, tickvals=temp_ticks, ticktext=temp_ticktext,
              minor=dict(tickvals=temp_minor, showgrid=True, gridcolor="#f4f4f4", gridwidth=1, ticks=""))
    xa.update(domain=[fx(x0), fx(x1)], anchor="y" + n)
    ya.update(domain=[fy(y1), fy(y0)], anchor="x" + n)
    layout_axes["xaxis" + n] = xa
    layout_axes["yaxis" + n] = ya

# scatter panels
scatter_sets = [("a", pts_a + pts_a_dense, line_doy_a, line_magt_a, band_doy_a, band_half_a),
                ("c", pts_c + pts_c_dense, line_doy_c, line_magt_c, band_doy_c, band_half_c),
                ("e", pts_e + pts_e_dense, line_doy_e, line_magt_e, band_doy_e, band_half_e)]
for k, pts, lx, ly, bx, bh in scatter_sets:
    n = axis_num[k]
    xs = [p[0] for p in pts]
    ys = [p[1] for p in pts]
    fig.add_trace(go.Scatter(x=xs, y=ys, mode="markers", xaxis="x" + n, yaxis="y" + n,
                             marker=dict(symbol="x-thin", size=10, line=dict(width=1.5, color="#1a1a1a"))))
    centre = np.interp(bx, lx, ly)
    up = centre + np.array(bh)
    dn = centre - np.array(bh)
    fig.add_trace(go.Scatter(x=list(bx) + list(bx[::-1]), y=list(up) + list(dn[::-1]), mode="lines",
                             fill="toself", fillcolor="rgba(153,153,153,0.4)", line=dict(width=0),
                             xaxis="x" + n, yaxis="y" + n))
    fig.add_trace(go.Scatter(x=lx, y=ly, mode="lines", line=dict(color="#ff0000", width=3),
                             xaxis="x" + n, yaxis="y" + n))

# box panels
box_sets = [("b", pos_b, wid_b, q1_b, med_b, q3_b, lo_b, hi_b, out_b),
            ("d", pos_d, wid_d, q1_d, med_d, q3_d, lo_d, hi_d, out_d),
            ("f", pos_f, wid_f, q1_f, med_f, q3_f, lo_f, hi_f, out_f)]
for k, pos, wid, q1, med, q3, lo, hi, outl in box_sets:
    n = axis_num[k]
    for i in range(len(pos)):
        fig.add_trace(go.Box(x=[pos[i]], q1=[q1[i]], median=[med[i]], q3=[q3[i]],
                             lowerfence=[lo[i]], upperfence=[hi[i]], width=wid[i],
                             boxpoints=False, whiskerwidth=0, fillcolor="white",
                             line=dict(color="#333333", width=2), xaxis="x" + n, yaxis="y" + n))
    mx, my = [], []
    for i in range(len(pos)):
        if wid[i] > 0.1:
            mx += [pos[i] - wid[i] / 2, pos[i] + wid[i] / 2, None]
            my += [med[i], med[i], None]
    fig.add_trace(go.Scatter(x=mx, y=my, mode="lines", line=dict(color="#333333", width=4.5),
                             xaxis="x" + n, yaxis="y" + n))
    fig.add_trace(go.Scatter(x=[o[0] for o in outl], y=[o[1] for o in outl], mode="markers",
                             marker=dict(color="#333333", size=8), xaxis="x" + n, yaxis="y" + n))
    fig.add_trace(go.Scatter(x=temp_range, y=temp_range, mode="lines",
                             line=dict(color="#4d4d4d", width=3.5), xaxis="x" + n, yaxis="y" + n))

# ---- text ----
ann = []
shapes = []


def text(s, x, y, size, xanchor="center", yanchor="middle", angle=0, family=SANS, color="black"):
    ann.append(dict(text=s, x=fx(x), y=fy(y), xref="paper", yref="paper", showarrow=False,
                    xanchor=xanchor, yanchor=yanchor, textangle=angle,
                    font=dict(family=family, size=size, color=color)))


for lab, x, y in [("(a)", 0, 33), ("(b)", 1101, 33), ("(c)", 0, 1104), ("(d)", 1101, 1104),
                  ("(e)", 0, 2180), ("(f)", 1101, 2178)]:
    text(lab, x, y, 54, xanchor="left")

for k, yx, yy, xx, xy in [("a", 21, 539, 522, 1025), ("c", 23, 1604, 522, 2089)]:
    text("MAGT [°C]", yx, yy, 31, angle=-90)
    text("Doy", xx, xy, 31)
for k, yx, yy, xx, xy in [("b", 1122, 531, 1625, 1025), ("d", 1122, 1598, 1625, 2091)]:
    text("MAGTmodelled [°C]", yx, yy, 31, angle=-90)
    text("MAGTmeasured [°C]", xx, xy, 31)
# bottom row: titles sit right on the page edge
text("MAGT [°C]", 22, 2698, 31, angle=-90)
text("Doy", 522, 3200, 31, yanchor="bottom")
text("MAGTmodelled [°C]", 1122, 2688, 31, angle=-90)
text("MAGTmeasured [°C]", 1625, 3200, 31, yanchor="bottom")


def eq_html(s):
    s = s.replace("M =", "<i>M</i> =").replace("doy", "<i>doy</i>")
    return "<b>" + s + "</b>"


SERIF = "Liberation Serif, Times New Roman, serif"
BODY = "Lato, Carlito, sans-serif"

# stats boxes (a) and (c)
for k, box, xt, rows, fs, fe in [("a", (92, 517, 781, 971.5), 104, (806, 860, 901, 942), 27, 29),
                                  ("c", (95, 497, 1856, 2037), 106, (1878, 1931, 1969, 2008), 25.5, 27.5)]:
    x0, x1, y0, y1 = box
    shapes.append(dict(type="rect", xref="paper", yref="paper", x0=fx(x0), x1=fx(x1), y0=fy(y1), y1=fy(y0),
                       line=dict(color="black", width=2), fillcolor="white", layer="above"))
    eq, r2, rse = stats[k]
    text(eq_html(eq), xt, rows[0], fe, xanchor="left", family=SERIF)
    text(r2, xt, rows[1], fs, xanchor="left", family=BODY)
    text(rse, xt, rows[2], fs, xanchor="left", family=BODY)
    text("<i>p</i> value &lt; 0.5", xt, rows[3], fs, xanchor="left", family=BODY)

# stats box (e), spanning the panel
shapes.append(dict(type="rect", xref="paper", yref="paper", x0=fx(91.5), x1=fx(959), y0=fy(3128.3), y1=fy(3038),
                   line=dict(color="black", width=2), fillcolor="white", layer="above"))
eq, r2, rse = stats["e"]
text(eq_html(eq), 525, 3063, 29, family=SERIF)
text(r2, 104, 3100, 27, xanchor="left", family=BODY)
text(rse, 510, 3100, 27, family=BODY)
text("<i>p</i> value &lt; 0.5", 938, 3100, 27, xanchor="right", family=BODY)

# thin separator under the first row
shapes.append(dict(type="line", xref="paper", yref="paper", x0=fx(94), x1=fx(963), y0=fy(1061), y1=fy(1061),
                   line=dict(color="#d0d0d0", width=2)))

fig.update_layout(width=W, height=H, margin=dict(l=0, r=0, t=0, b=0), autosize=False,
                  paper_bgcolor="white", plot_bgcolor="white", showlegend=False, boxmode="overlay",
                  annotations=ann, shapes=shapes, **layout_axes)

fig.write_html("out.html")
